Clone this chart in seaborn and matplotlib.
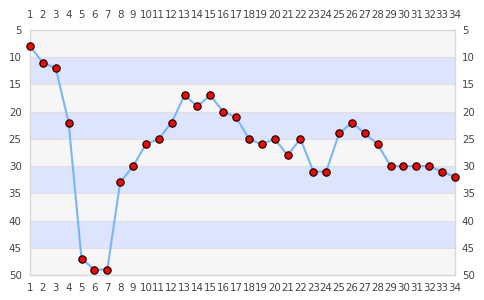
import matplotlib
matplotlib.use("Agg")
import matplotlib.pyplot as plt
import seaborn as sns
import pandas as pd

rounds = list(range(1, 35))
positions = [8, 11, 12, 22, 47, 49, 49, 33, 30, 26, 25, 22, 17, 19, 17, 20, 21,
             25, 26, 25, 28, 25, 31, 31, 24, 22, 24, 26, 30, 30, 30, 30, 31, 32]
y_ticks = [5, 10, 15, 20, 25, 30, 35, 40, 45, 50]

df = pd.DataFrame({"round": rounds, "position": positions})

sns.set_theme(style="white")
plt.rcParams['font.family'] = ['DejaVu Sans']

fig = plt.figure(figsize=(4.85, 3.0), dpi=100)
ax = fig.add_axes([30 / 485, 25 / 300, 425 / 485, 245 / 300])

# alternating bands
for i, lo in enumerate(y_ticks[:-1]):
    color = "#f6f6f6" if i % 2 == 0 else "#dde4fd"
    ax.axhspan(lo, lo + 5, color=color, zorder=0, lw=0)
for t in y_ticks:
    ax.axhline(t, color="#e0e0e0", lw=0.8, zorder=0.5)

sns.lineplot(data=df, x="round", y="position", ax=ax, color="#7ab6f4",
             linewidth=1.5, marker="o", markersize=5.3, markerfacecolor="#ff0000",
             markeredgecolor="#000000", markeredgewidth=0.8, zorder=3, clip_on=False)

ax.set_xlim(1, 34)
ax.set_ylim(50, 5)
ax.set_xticks(rounds)
ax.set_xticklabels([str(r) for r in rounds])
ax.set_yticks(y_ticks)
ax.set_xlabel("")
ax.set_ylabel("")
ax.tick_params(axis="both", length=0, labelsize=7.4, labelcolor="#444444")
ax.tick_params(axis="x", pad=6)
ax.tick_params(axis="y", pad=6)

top = ax.secondary_xaxis("top")
top.set_xticks(rounds)
top.set_xticklabels([str(r) for r in rounds])
top.tick_params(length=0, labelsize=7.4, labelcolor="#444444", pad=7)
top.spines["top"].set_visible(False)

right = ax.secondary_yaxis("right")
right.set_yticks(y_ticks)
right.tick_params(length=0, labelsize=7.4, labelcolor="#444444", pad=5)
right.spines["right"].set_visible(False)

for s in ax.spines.values():
    s.set_color("#d8d8d8")
    s.set_linewidth(1.0)
    s.set_visible(True)

fig.savefig("out.png", dpi=100)
